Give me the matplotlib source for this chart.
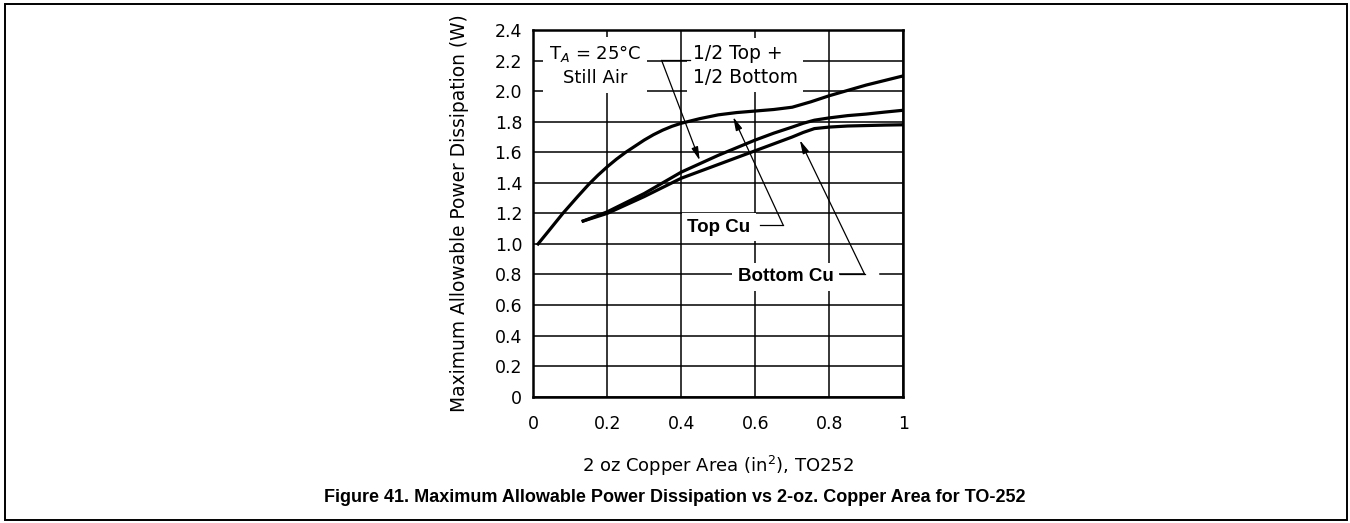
import matplotlib
matplotlib.use("Agg")
import matplotlib.pyplot as plt
from matplotlib.patches import Rectangle

# Curves (x in in^2, y in W)
top_cu_x = [0.013, 0.04, 0.08, 0.10, 0.12, 0.15, 0.175, 0.2, 0.225, 0.25, 0.275, 0.3,
            0.325, 0.35, 0.375, 0.4, 0.425, 0.45, 0.5, 0.55, 0.6, 0.65, 0.7, 0.75,
            0.8, 0.85, 0.9, 0.95, 1.0]
top_cu_y = [1.00, 1.08, 1.20, 1.255, 1.31, 1.39, 1.45, 1.505, 1.555, 1.60, 1.64, 1.68,
            1.715, 1.745, 1.77, 1.79, 1.805, 1.82, 1.845, 1.86, 1.87, 1.88, 1.895, 1.93,
            1.97, 2.005, 2.04, 2.07, 2.10]

half_x = [0.135, 0.2, 0.25, 0.3, 0.35, 0.4, 0.45, 0.5, 0.55, 0.6, 0.65, 0.7, 0.73,
          0.76, 0.8, 0.85, 0.9, 0.95, 1.0]
half_y = [1.15, 1.21, 1.27, 1.33, 1.40, 1.47, 1.525, 1.58, 1.63, 1.68, 1.725, 1.765,
          1.79, 1.81, 1.825, 1.84, 1.85, 1.863, 1.875]

bottom_cu_x = [0.135, 0.2, 0.25, 0.3, 0.35, 0.4, 0.45, 0.5, 0.55, 0.6, 0.65, 0.7, 0.73,
               0.76, 0.8, 0.85, 0.9, 0.95, 1.0]
bottom_cu_y = [1.15, 1.20, 1.255, 1.31, 1.37, 1.43, 1.475, 1.52, 1.565, 1.61, 1.655,
               1.70, 1.73, 1.755, 1.765, 1.772, 1.775, 1.778, 1.78]

x_ticks = [0, 0.2, 0.4, 0.6, 0.8, 1.0]
x_tick_labels = ["0", "0.2", "0.4", "0.6", "0.8", "1"]
y_ticks = [0, 0.2, 0.4, 0.6, 0.8, 1.0, 1.2, 1.4, 1.6, 1.8, 2.0, 2.2, 2.4]
y_tick_labels = ["0", "0.2", "0.4", "0.6", "0.8", "1.0", "1.2", "1.4", "1.6",
                 "1.8", "2.0", "2.2", "2.4"]

TICK_FONT = ["Liberation Sans Narrow", "DejaVu Sans"]
NOTE_FONT = ["DejaVu Sans"]
BOLD_FONT = ["Liberation Sans", "DejaVu Sans"]

fig = plt.figure(figsize=(13.5, 5.23), dpi=100)
ax = fig.add_axes([0.395, 0.2415, 0.274, 0.701])

# curves
for xs, ys in [(top_cu_x, top_cu_y), (half_x, half_y), (bottom_cu_x, bottom_cu_y)]:
    ax.plot(xs, ys, color="black", lw=2.3, zorder=4, solid_joinstyle="round")

ax.set_xlim(0, 1)
ax.set_ylim(0, 2.4)
ax.set_xticks(x_ticks)
ax.set_xticklabels(x_tick_labels, family=TICK_FONT, fontsize=12.5)
ax.set_yticks(y_ticks)
ax.set_yticklabels(y_tick_labels, family=TICK_FONT, fontsize=12.5)
ax.tick_params(axis="x", length=0, pad=13)
ax.tick_params(axis="y", length=0, pad=8)
ax.set_axisbelow(True)
ax.grid(True, color="black", lw=1.1)
for sp in ax.spines.values():
    sp.set_linewidth(1.8)

ax.set_xlabel("2 oz Copper Area (in$^2$), TO252", family=NOTE_FONT, fontsize=13)
ax.xaxis.set_label_coords(0.5, -0.155)
ax.set_ylabel("Maximum Allowable Power Dissipation (W)", family=NOTE_FONT, fontsize=13.4)
ax.yaxis.set_label_coords(-0.175, 0.5)

# labels with white boxes that break the grid
box = dict(facecolor="white", edgecolor="none", pad=4)
ax.text(0.167, 2.17, "T$_A$ = 25°C\nStill Air", ha="center", va="center",
        multialignment="center", linespacing=1.35, family=NOTE_FONT, fontsize=13,
        bbox=box, zorder=3)
ax.text(0.431, 2.17, "1/2 Top +\n1/2 Bottom", ha="left", va="center",
        multialignment="left", linespacing=1.35, family=NOTE_FONT, fontsize=13.5,
        bbox=box, zorder=3)
ax.text(0.502, 1.11, "Top Cu", ha="center", va="center", weight="bold",
        family=BOLD_FONT, fontsize=13.5, bbox=box, zorder=3)
ax.text(0.683, 0.785, "Bottom Cu", ha="center", va="center", weight="bold",
        family=BOLD_FONT, fontsize=13.5, bbox=box, zorder=3)

# leader lines + arrows
arrow = dict(arrowstyle="-|>,head_length=0.8,head_width=0.2", mutation_scale=10,
             lw=0.9, color="black", shrinkA=0, shrinkB=0)
leaders = [
    ((0.4235, 2.202), (0.347, 2.202), (0.45, 1.547)),
    ((0.6126, 1.123), (0.6757, 1.123), (0.5405, 1.831)),
    ((0.8288, 0.80), (0.8962, 0.80), (0.7208, 1.679)),
]
for start, corner, tip in leaders:
    ax.plot([start[0], corner[0]], [start[1], corner[1]], color="black", lw=0.9, zorder=5)
    ax.annotate("", xy=tip, xytext=corner, arrowprops=arrow, zorder=5)
# small break in the 0.8 grid line right after the Bottom Cu leader
ax.plot([0.8995, 0.928], [0.8, 0.8], color="white", lw=2.5, zorder=2)

fig.text(0.5, 1 - 498 / 523,
         "Figure 41. Maximum Allowable Power Dissipation vs 2-oz. Copper Area for TO-252",
         ha="center", va="center", weight="bold", family=BOLD_FONT, fontsize=13)

fig.patches.append(Rectangle((0.0037, 0.0057), 0.9941, 0.9867, transform=fig.transFigure,
                             fill=False, edgecolor="black", lw=1.4))

fig.savefig("out.png", dpi=100)
